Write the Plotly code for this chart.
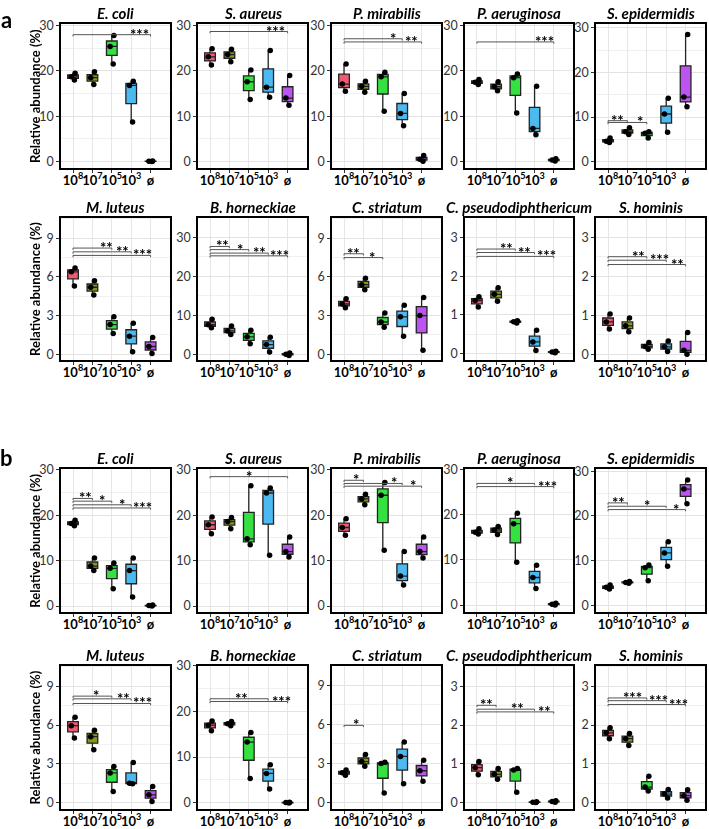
import plotly.graph_objects as go

FIG_W, FIG_H = 709, 829

# ---------------- data ----------------
GROUP_TICKS = ["10<sup>8</sup>", "10<sup>7</sup>", "10<sup>5</sup>", "10<sup>3</sup>", "ø"]
GROUP_COLORS = ["#F25A70", "#809B16", "#35E041", "#4CB9F0", "#BC55F0"]
SPECIES = ["E. coli", "S. aureus", "P. mirabilis", "P. aeruginosa", "S. epidermidis",
           "M. luteus", "B. horneckiae", "C. striatum", "C. pseudodiphthericum", "S. hominis"]
Y_TITLE = "Relative abundance (%)"

# relative abundance (%), three replicates per group (10^8, 10^7, 10^5, 10^3, ø)
a_e_coli        = [[18.0, 18.7, 19.5], [17.0, 18.5, 19.8], [21.5, 25.4, 27.8], [8.7, 16.8, 17.7], [0.0, 0.05, 0.1]]
a_s_aureus      = [[21.3, 23.1, 24.9], [22.0, 23.6, 24.8], [13.7, 17.6, 20.2], [14.2, 16.4, 24.5], [12.4, 14.0, 19.0]]
a_p_mirabilis   = [[15.5, 17.1, 21.5], [15.3, 16.6, 17.7], [11.1, 18.7, 19.7], [7.9, 10.6, 15.0], [0.05, 0.5, 1.3]]
a_p_aeruginosa  = [[17.0, 17.5, 18.1], [15.6, 16.5, 17.6], [10.7, 18.5, 19.3], [5.9, 7.3, 16.6], [0.1, 0.3, 0.6]]
a_s_epidermidis = [[4.3, 4.6, 5.3], [6.1, 6.7, 7.6], [5.3, 6.4, 6.7], [6.6, 10.7, 14.2], [12.3, 14.5, 28.5]]
a_m_luteus      = [[5.3, 6.4, 6.7], [4.6, 5.2, 5.7], [1.6, 2.3, 2.9], [0.2, 1.4, 2.4], [0.05, 0.6, 1.3]]
a_b_horneckiae  = [[6.8, 7.6, 9.0], [5.1, 6.0, 7.3], [2.7, 4.5, 6.2], [0.6, 2.5, 4.4], [-0.3, 0.0, 0.3]]
a_c_striatum    = [[3.6, 3.9, 4.3], [5.0, 5.4, 5.9], [2.1, 2.5, 3.2], [1.4, 2.9, 3.8], [0.3, 3.0, 4.4]]
a_c_pseudo      = [[1.2, 1.37, 1.47], [1.35, 1.53, 1.7], [0.79, 0.82, 0.85], [0.08, 0.3, 0.6], [0.02, 0.04, 0.06]]
a_s_hominis     = [[0.65, 0.83, 1.03], [0.58, 0.73, 0.93], [0.13, 0.2, 0.3], [0.07, 0.19, 0.34], [0.0, 0.1, 0.56]]

b_e_coli        = [[17.7, 18.2, 18.9], [7.8, 8.8, 10.6], [3.8, 8.3, 9.5], [2.0, 7.8, 10.6], [0.0, 0.1, 0.2]]
b_s_aureus      = [[15.9, 17.9, 19.6], [17.0, 18.6, 19.5], [13.5, 14.8, 26.5], [11.2, 24.9, 26.0], [10.8, 12.0, 15.2]]
b_p_mirabilis   = [[15.6, 17.3, 19.2], [22.3, 23.6, 24.6], [12.3, 24.4, 27.2], [4.6, 6.6, 12.0], [10.6, 12.0, 15.2]]
b_p_aeruginosa  = [[15.7, 16.1, 16.9], [15.6, 16.6, 17.4], [9.5, 18.0, 20.3], [3.7, 6.1, 8.8], [0.05, 0.2, 0.4]]
b_s_epidermidis = [[3.6, 4.0, 4.5], [4.9, 5.1, 5.3], [5.5, 8.4, 9.0], [8.7, 11.7, 14.2], [22.7, 26.0, 28.0]]
b_m_luteus      = [[5.0, 5.95, 6.6], [4.1, 5.1, 5.6], [0.85, 2.3, 2.8], [1.45, 1.5, 3.1], [0.08, 0.6, 1.25]]
b_b_horneckiae  = [[15.8, 17.0, 17.9], [16.9, 17.3, 17.8], [5.3, 13.3, 15.4], [3.0, 6.4, 8.3], [-0.1, 0.0, 0.1]]
b_c_striatum    = [[2.1, 2.3, 2.5], [2.8, 3.15, 3.7], [0.75, 3.0, 3.1], [1.45, 3.55, 4.65], [1.65, 2.45, 3.25]]
b_c_pseudo      = [[0.72, 0.9, 1.06], [0.6, 0.73, 0.88], [0.27, 0.84, 0.88], [0.0, 0.01, 0.02], [0.01, 0.03, 0.05]]
b_s_hominis     = [[1.65, 1.8, 1.93], [1.47, 1.65, 1.78], [0.3, 0.4, 0.68], [0.12, 0.22, 0.34], [0.06, 0.18, 0.33]]

PANEL_DATA = [a_e_coli, a_s_aureus, a_p_mirabilis, a_p_aeruginosa, a_s_epidermidis,
              a_m_luteus, a_b_horneckiae, a_c_striatum, a_c_pseudo, a_s_hominis,
              b_e_coli, b_s_aureus, b_p_mirabilis, b_p_aeruginosa, b_s_epidermidis,
              b_m_luteus, b_b_horneckiae, b_c_striatum, b_c_pseudo, b_s_hominis]

# significance: (to-group index, label) -- all comparisons start from 10^8
SIG_LABELS = [
    [(4, "***")], [(4, "***")], [(3, "*"), (4, "**")], [(4, "***")], [(1, "**"), (2, "*")],
    [(2, "**"), (3, "**"), (4, "***")], [(1, "**"), (2, "*"), (3, "**"), (4, "***")],
    [(1, "**"), (2, "*")], [(2, "**"), (3, "**"), (4, "***")], [(2, "**"), (3, "***"), (4, "**")],
    [(1, "**"), (2, "*"), (3, "*"), (4, "***")], [(4, "*")], [(1, "*"), (3, "*"), (4, "*")],
    [(3, "*"), (4, "***")], [(1, "**"), (3, "*"), (4, "*")],
    [(2, "*"), (3, "**"), (4, "***")], [(3, "**"), (4, "***")], [(1, "*")],
    [(1, "**"), (3, "**"), (4, "**")], [(2, "***"), (3, "***"), (4, "***")],
]

# ---------------- layout spec ----------------
COLS_PX = [(61, 170), (198, 307), (332, 441), (465, 573), (596, 705)]
ROWS_PX = [(17, 163), (213, 357), (467, 612), (666, 811)]
Y_RANGES = [
    (-1.5, 30.4), (-1.5, 30.4), (-1.5, 30.4), (-1.5, 30.4), (-1.45, 30.9),
    (-0.46, 10.6), (-1.5, 35.1), (-0.46, 10.6), (-0.17, 3.51), (-0.15, 3.5),
    (-1.4, 30.2), (-1.4, 30.2), (-1.4, 30.2), (-1.6, 30.1), (-1.6, 30.5),
    (-0.51, 10.59), (-1.45, 30.05), (-0.5, 10.5), (-0.17, 3.53), (-0.17, 3.53),
]
# bracket line heights and label x positions (per SIG_LABELS entry)
SIG_POS = [
    [(28.0, 3.42)], [(28.7, 3.36)], [(27.1, 2.5), (26.4, 3.5)], [(26.4, 3.5)], [(9.2, 0.5), (8.8, 1.65)],
    [(8.24, 1.7), (7.95, 2.56), (7.67, 3.6)], [(27.7, 0.62), (26.9, 1.57), (26.0, 2.55), (25.3, 3.6)],
    [(7.8, 0.47), (7.5, 1.43)], [(2.70, 1.55), (2.61, 2.5), (2.51, 3.6)], [(2.5, 1.55), (2.41, 2.64), (2.3, 3.57)],
    [(23.7, 0.63), (23.1, 1.5), (22.3, 2.5), (21.6, 3.6)], [(28.5, 2.0)], [(27.7, 0.6), (27.0, 2.6), (26.4, 3.55)],
    [(26.9, 1.72), (26.2, 3.65)], [(22.9, 0.52), (22.15, 2.0), (21.4, 3.5)],
    [(8.24, 1.2), (8.03, 2.6), (7.67, 3.6)], [(22.8, 1.6), (22.2, 3.7)], [(5.93, 0.63)],
    [(2.51, 0.5), (2.41, 2.1), (2.34, 3.5)], [(2.7, 1.24), (2.63, 2.6), (2.53, 3.65)],
]
X_RANGE = (-0.62, 5.0)
FONT = "Lato"

fig = go.Figure()
layout = dict(
    width=FIG_W, height=FIG_H, margin=dict(l=0, r=0, t=0, b=0),
    paper_bgcolor="white", plot_bgcolor="white", showlegend=False,
    font=dict(family=FONT, color="#222"),
)
annotations = []
shapes = []

def px_x(p):
    return p / FIG_W

def px_y(p):
    return 1 - p / FIG_H

for k in range(20):
    r, c = divmod(k, 5)
    n = k + 1
    xa = "x" if n == 1 else f"x{n}"
    ya = "y" if n == 1 else f"y{n}"
    xkey = "xaxis" if n == 1 else f"xaxis{n}"
    ykey = "yaxis" if n == 1 else f"yaxis{n}"
    L, R = COLS_PX[c]
    T, B = ROWS_PX[r]
    y0, y1 = Y_RANGES[k]
    dt = 10 if y1 > 20 else (3 if y1 > 5 else 1)

    layout[xkey] = dict(
        domain=[px_x(L), px_x(R)], anchor=ya, range=list(X_RANGE),
        tickmode="array", tickvals=list(range(5)), ticktext=GROUP_TICKS,
        tickangle=0, ticklabelstandoff=-4,
        tickfont=dict(family=FONT, size=13, color="black", weight="bold"),
        ticks="outside", ticklen=3, tickcolor="#333",
        showgrid=True, gridcolor="#E6E6E6", gridwidth=1,
        showline=True, mirror=True, linecolor="black", linewidth=1.8,
        zeroline=False, fixedrange=True,
    )
    layout[ykey] = dict(
        domain=[px_y(B), px_y(T)], anchor=xa, range=[y0, y1],
        tick0=0, dtick=dt,
        tickfont=dict(family=FONT, size=12.5, color="#333"),
        ticks="outside", ticklen=3, tickcolor="#333",
        showgrid=True, gridcolor="#E3E3E3", gridwidth=1,
        minor=dict(dtick=dt / 2, showgrid=True, gridcolor="#F0F0F0", gridwidth=1),
        showline=True, mirror=True, linecolor="black", linewidth=1.8,
        zeroline=False, fixedrange=True,
    )

    for g in range(5):
        vals = PANEL_DATA[k][g]
        fig.add_trace(go.Box(
            x=[g] * len(vals), y=vals, xaxis=xa, yaxis=ya,
            width=0.55, quartilemethod="inclusive",
            fillcolor=GROUP_COLORS[g], line=dict(color="#222", width=1.3),
            whiskerwidth=0, boxpoints="all", jitter=0.5, pointpos=0,
            marker=dict(color="black", size=5.5, line=dict(width=0)),
            hoverinfo="skip",
        ))

    span = y1 - y0
    for (to, lab), (yl, tx) in zip(SIG_LABELS[k], SIG_POS[k]):
        d = span * 0.012
        shapes.append(dict(
            type="path", xref=xa, yref=ya,
            path=f"M 0,{yl - d} L 0,{yl} L {to},{yl} L {to},{yl - d}",
            line=dict(color="#555", width=1),
        ))
        annotations.append(dict(
            x=tx, y=yl, xref=xa, yref=ya, text=lab, showarrow=False,
            xanchor="center", yanchor="middle", yshift=1,
            font=dict(family=FONT, size=15, color="black", weight="bold"),
        ))

    annotations.append(dict(
        x=(px_x(L) + px_x(R)) / 2, y=px_y(T), xref="paper", yref="paper",
        text=SPECIES[k % 10], showarrow=False, xanchor="center", yanchor="bottom", yshift=0,
        font=dict(family=FONT, size=15, color="black", weight="bold", style="italic"),
    ))
    if c == 0:
        annotations.append(dict(
            x=px_x(35), y=(px_y(T) + px_y(B)) / 2, xref="paper", yref="paper",
            text=Y_TITLE, showarrow=False, textangle=-90,
            xanchor="center", yanchor="middle",
            font=dict(family=FONT, size=13, color="black", weight="bold"),
        ))

for lab, ypx in (("a", 13), ("b", 455)):
    annotations.append(dict(
        x=px_x(6), y=px_y(ypx), xref="paper", yref="paper", text=lab, showarrow=False,
        xanchor="center", yanchor="middle",
        font=dict(family=FONT, size=22, color="black", weight="bold"),
    ))

layout["annotations"] = annotations
layout["shapes"] = shapes
fig.update_layout(**layout)
fig.write_html(
    "out.html",
    config={"displayModeBar": False, "staticPlot": True},
    post_script=(
        "document.body.style.margin='0';document.body.style.padding='0';"
        "document.querySelectorAll('.annotation-text').forEach(function(e){e.style.filter='grayscale(1)';});"
    ),
)
